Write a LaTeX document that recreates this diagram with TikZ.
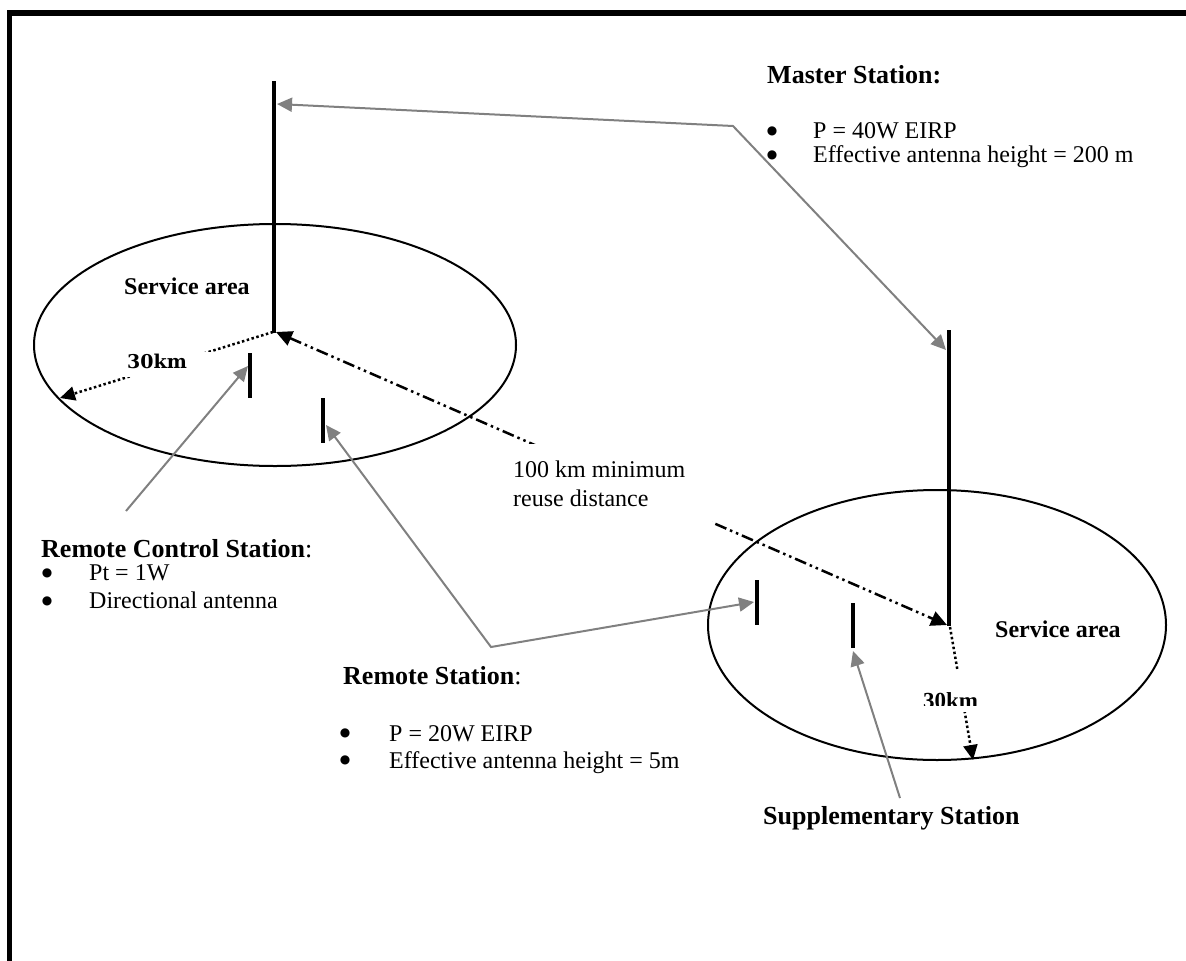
\documentclass[tikz,border=0pt]{standalone}
\usepackage{fontspec}
\setmainfont{Liberation Serif}
\newfontfamily\kmfont{DejaVu Serif}
\newfontfamily\bulfont{DejaVu Sans}
\usetikzlibrary{arrows.meta}
\definecolor{arrowgray}{HTML}{808080}
\begin{document}
\begin{tikzpicture}[x=1pt,y=-1pt,
  frame/.style={line width=5.5pt, line join=miter},
  antenna/.style={line width=4pt},
  areaellipse/.style={line width=2pt},
  garrow/.style={draw=arrowgray, line width=2pt, line join=miter, {Triangle[length=15pt,width=14pt]}-{Triangle[length=15pt,width=14pt]}},
  gsingle/.style={draw=arrowgray, line width=2pt, line join=miter, -{Triangle[length=15pt,width=14pt]}},
  dotarrow/.style={line width=2.5pt, dash pattern=on 2.5pt off 2.5pt, -{Triangle[length=15pt,width=14pt]}},
  dasharrow/.style={line width=2.5pt, dash pattern=on 12pt off 4pt on 2.5pt off 4pt on 2.5pt off 4pt, {Triangle[length=16pt,width=15pt]}-{Triangle[length=16pt,width=15pt]}},
  txt/.style={anchor=base west, inner sep=0pt, font=\fontsize{24}{28}\selectfont},
  bul/.style={anchor=center, inner sep=0pt, font=\bulfont\fontsize{12}{12}\selectfont},
  head/.style={anchor=base west, inner sep=0pt, font=\fontsize{26}{30}\selectfont\bfseries},
  area/.style={anchor=base west, inner sep=0pt, font=\fontsize{24}{28}\selectfont\bfseries}
]
\useasboundingbox (0,0) rectangle (1186,961);

% frame (only top and left edges are visible)
\draw[frame] (9.5,980) -- (9.5,13) -- (1200,13);

% service areas
\draw[areaellipse] (275,345) ellipse [x radius=241pt, y radius=121pt];
\draw[areaellipse] (937,625) ellipse [x radius=229pt, y radius=135pt];

% antennas
\coordinate (mlTop) at (274,81);
\coordinate (mlBot) at (274,333);
\coordinate (mrTop) at (949,330);
\coordinate (mrBot) at (949,626);
\coordinate (rcTop) at (250,353);
\coordinate (rcBot) at (250,398);
\coordinate (rlTop) at (323,398);
\coordinate (rlBot) at (323,443);
\coordinate (rrTop) at (757,580);
\coordinate (rrBot) at (757,625);
\coordinate (spTop) at (853,603);
\coordinate (spBot) at (853,648);
\draw[antenna] (mlTop) -- (mlBot);
\draw[antenna] (mrTop) -- (mrBot);
\draw[antenna] (rcTop) -- (rcBot);
\draw[antenna] (rlTop) -- (rlBot);
\draw[antenna] (rrTop) -- (rrBot);
\draw[antenna] (spTop) -- (spBot);

% radius arrows
\coordinate (lEdge) at (60,398);
\coordinate (lCentre) at (273,332);
\draw[dotarrow] (lCentre) -- (lEdge);
\fill[white] (108,352) rectangle (215,377);
\node[anchor=base west, inner sep=0pt, font=\kmfont\fontsize{19}{22}\selectfont\bfseries] (km1) at (127,368) {30km};

\coordinate (rCentre) at (950,627);
\coordinate (rEdge) at (973,760);
\draw[dotarrow] (rCentre) -- (rEdge);
\fill[white] (907,670) rectangle (1033,712);
\begin{scope}
  \clip (907,670) rectangle (1033,705);
  \node[anchor=base west, inner sep=0pt, font=\fontsize{23}{26}\selectfont\bfseries] (km2) at (923,708) {30km};
\end{scope}

% reuse distance
\coordinate (dA) at (276,332);
\coordinate (dB) at (947,625);
\draw[dasharrow] (dA) -- (dB);
\fill[white] (503,444) rectangle (712,524);
\node[txt] (reuse1) at (513,477) {100 km minimum};
\node[txt] (reuse2) at (513,506) {reuse distance};

% gray pointer arrows
\coordinate (mBend) at (733,126);
\coordinate (mlTip) at (277,104);
\coordinate (mrTip) at (946,350);
\draw[garrow] (mlTip) -- (mBend) -- (mrTip);

\coordinate (rcStart) at (126,511);
\coordinate (rcTip) at (248,366);
\draw[gsingle] (rcStart) -- (rcTip);

\coordinate (rsBend) at (491,647);
\coordinate (rlTip) at (326,425);
\coordinate (rrTip) at (754,602);
\draw[garrow] (rlTip) -- (rsBend) -- (rrTip);

\coordinate (spStart) at (900,798);
\coordinate (spTip) at (853,651);
\draw[gsingle] (spStart) -- (spTip);

% texts
\node[area] (sa1) at (124,294) {Service area};
\node[area] (sa2) at (995,637) {Service area};

\node[head] (master) at (767,83) {Master Station:};
\node[bul] (mb1) at (772,131) {●};
\node[txt] (mt1) at (813,138) {P = 40W EIRP};
\node[bul] (mb2) at (772,155) {●};
\node[txt] (mt2) at (813,162) {Effective antenna height = 200 m};

\node[head] (rcs) at (41,557) {Remote Control Station\mdseries:};
\node[bul] (rcb1) at (47,573) {●};
\node[txt] (rct1) at (89,580) {Pt = 1W};
\node[bul] (rcb2) at (47,601) {●};
\node[txt] (rct2) at (89,608) {Directional antenna};

\node[head] (rs) at (343,684) {Remote Station\mdseries:};
\node[bul] (rsb1) at (345,733) {●};
\node[txt] (rst1) at (389,741) {P = 20W EIRP};
\node[bul] (rsb2) at (345,760) {●};
\node[txt] (rst2) at (389,768) {Effective antenna height = 5m};

\node[head] (sup) at (763,824) {Supplementary Station};
\end{tikzpicture}
\end{document}
